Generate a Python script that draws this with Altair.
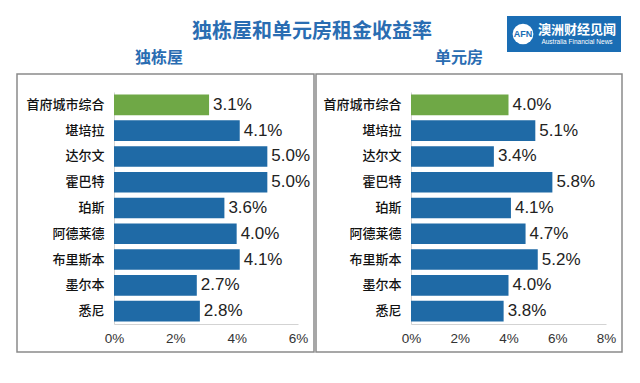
import altair as alt
import pandas as pd

# ---- data ----
categories = ["首府城市综合", "堪培拉", "达尔文", "霍巴特", "珀斯", "阿德莱德", "布里斯本", "墨尔本", "悉尼"]
house_yield = [3.1, 4.1, 5.0, 5.0, 3.6, 4.0, 4.1, 2.7, 2.8]
unit_yield = [4.0, 5.1, 3.4, 5.8, 4.1, 4.7, 5.2, 4.0, 3.8]
house_ticks = [0, 2, 4, 6]
unit_ticks = [0, 2, 4, 6, 8]
main_title = "独栋屋和单元房租金收益率"
sub_titles = ["独栋屋", "单元房"]
logo_cn = "澳洲财经见闻"
logo_en = "Australia Financial News"
highlight = "首府城市综合"

BLUE = "#1f6aa6"
GREEN = "#6fa846"
TITLE_BLUE = "#2a6db2"
CJK = "Noto Sans CJK SC"
LATIN = "Liberation Sans"

one = alt.Data(values=[{}])


def panel(values, ticks, width, frame, subtitle, sub_x, extra=None):
    df = pd.DataFrame({
        "city": categories,
        "v": values,
        "label": [f"{v:.1f}%" for v in values],
    })
    base = alt.Chart(df)
    y = alt.Y(
        "city:N", sort=categories, title=None,
        scale=alt.Scale(paddingInner=0.2, paddingOuter=0.1),
        axis=alt.Axis(ticks=False, domainColor="#d3d3d3", labelPadding=10,
                      labelFontSize=13, labelFont=CJK, labelFontWeight=500,
                      labelColor="#111111"),
    )
    x = alt.X(
        "v:Q", title=None,
        scale=alt.Scale(domain=[ticks[0], ticks[-1]], nice=False),
        axis=alt.Axis(values=ticks, labelExpr="datum.value + '%'", ticks=False,
                      grid=False, domainColor="#d3d3d3", labelFontSize=13.5,
                      labelFont=LATIN, labelColor="#333333", labelPadding=7,
                      labelFlush=False),
    )
    bars = base.mark_bar().encode(
        x=x, y=y,
        color=alt.condition(alt.datum.city == highlight, alt.value(GREEN), alt.value(BLUE)),
    )
    labels = base.mark_text(align="left", baseline="middle", dx=4, fontSize=17,
                            font=LATIN, color="#222222").encode(
        x="v:Q", y=alt.Y("city:N", sort=categories), text="label:N")
    box = alt.Chart(one).mark_rect(fill=None, stroke="#8a8a8a", strokeWidth=1.5).encode(
        x=alt.value(frame[0]), x2=alt.value(frame[1]),
        y=alt.value(frame[2]), y2=alt.value(frame[3]))
    sub = alt.Chart(one).mark_text(text=subtitle, fontSize=16, fontWeight="bold", font=CJK,
                                   color=TITLE_BLUE, align="center", baseline="middle").encode(
        x=alt.value(sub_x), y=alt.value(-34))
    layers = [box, bars, labels, sub]
    if extra:
        layers += extra
    return alt.layer(*layers).properties(width=width, height=232)


title_mark = alt.Chart(one).mark_text(text=main_title, fontSize=20, fontWeight="bold", font=CJK,
                                      color=TITLE_BLUE, align="center", baseline="middle").encode(
    x=alt.value(198), y=alt.value(-60))

logo_rect = alt.Chart(one).mark_rect(fill="#1a6db4").encode(
    x=alt.value(96), x2=alt.value(210), y=alt.value(-76), y2=alt.value(-40))
logo_circle = alt.Chart(one).mark_point(shape="circle", filled=True, fill="white", opacity=1,
                                        size=430).encode(x=alt.value(112), y=alt.value(-58))
logo_afn = alt.Chart(one).mark_text(text="AFN", fontSize=9, fontWeight="bold", font=LATIN,
                                    color="#1a6db4", align="center", baseline="middle").encode(
    x=alt.value(112), y=alt.value(-58))
logo_cn_mark = alt.Chart(one).mark_text(text=logo_cn, fontSize=13, fontWeight="bold", font=CJK,
                                        color="white", align="center", baseline="middle").encode(
    x=alt.value(166), y=alt.value(-62))
logo_en_mark = alt.Chart(one).mark_text(text=logo_en, fontSize=6.5, font=LATIN,
                                        color="white", align="center", baseline="middle").encode(
    x=alt.value(166), y=alt.value(-50))

left = panel(house_yield, house_ticks, 184, (-97, 200, -18, 260), sub_titles[0], 45,
             extra=[title_mark])
right = panel(unit_yield, unit_ticks, 195, (-95, 211, -18, 260), sub_titles[1], 48,
              extra=[logo_rect, logo_circle, logo_afn, logo_cn_mark, logo_en_mark])

chart = alt.hconcat(left, right, spacing=113, bounds="flush").properties(
    padding={"left": 8, "top": 8, "right": 5, "bottom": 5},
    background="white",
).configure_view(stroke=None)

chart.save("out.html", embed_options={"renderer": "svg", "actions": False})
